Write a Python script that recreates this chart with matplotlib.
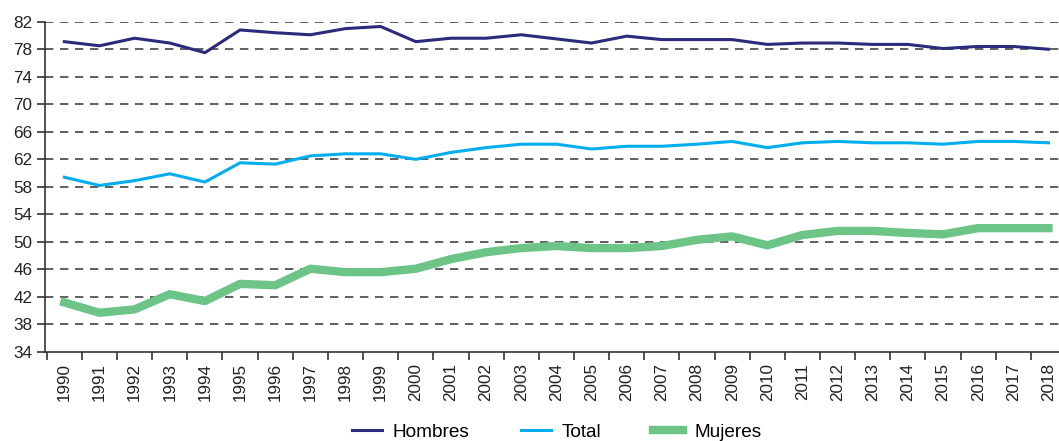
import matplotlib
matplotlib.use("Agg")
import matplotlib.pyplot as plt
from matplotlib.ticker import FixedLocator

plt.rcParams['font.family'] = ['Liberation Sans', 'DejaVu Sans']

years = [str(y) for y in range(1990, 2019)]
hombres = [79.1, 78.5, 79.6, 78.9, 77.5, 80.8, 80.4, 80.1, 81.0, 81.3,
           79.1, 79.6, 79.6, 80.1, 79.5, 78.9, 79.9, 79.4, 79.4, 79.4,
           78.7, 78.9, 78.9, 78.7, 78.7, 78.1, 78.4, 78.4, 78.0]
total = [59.4, 58.2, 58.9, 59.9, 58.7, 61.5, 61.3, 62.5, 62.8, 62.8,
         62.0, 63.0, 63.7, 64.2, 64.2, 63.5, 63.9, 63.9, 64.2, 64.6,
         63.7, 64.4, 64.6, 64.4, 64.4, 64.2, 64.6, 64.6, 64.4]
mujeres = [41.2, 39.7, 40.2, 42.4, 41.4, 43.9, 43.7, 46.1, 45.6, 45.6,
           46.1, 47.5, 48.5, 49.1, 49.4, 49.1, 49.1, 49.4, 50.3, 50.8,
           49.5, 51.0, 51.6, 51.6, 51.3, 51.1, 52.0, 52.0, 52.0]
yticks = list(range(34, 83, 4))

W, H = 1059, 441
fig = plt.figure(figsize=(W / 100, H / 100), dpi=100)
ax = fig.add_axes([45 / W, 89 / H, (W - 45) / W, 330.3 / H])

x = list(range(len(years)))
ax.plot(x, hombres, color='#2B2A7B', lw=2.2, label='Hombres', solid_joinstyle='round')
ax.plot(x, total, color='#00AEEF', lw=2.2, label='Total', solid_joinstyle='round')
ax.plot(x, mujeres, color='#6CC487', lw=6, label='Mujeres', solid_joinstyle='round')

ax.set_ylim(34, 82)
ax.set_xlim(-0.55, 28.3)
ax.set_yticks(yticks)
ax.set_yticklabels([str(t) for t in yticks], fontsize=12.3, color='#222222')
ax.set_xticks(x)
ax.set_xticklabels(years, rotation=90, fontsize=12.3, color='#222222')
ax.xaxis.set_minor_locator(FixedLocator([i + 0.5 for i in range(-1, len(years))]))
ax.tick_params(axis='x', which='major', length=0, pad=8)
ax.tick_params(axis='x', which='minor', length=6, width=1.2, color='#333333')
ax.tick_params(axis='y', length=6, width=1.2, color='#333333', pad=3)

for t in yticks[1:]:
    ax.axhline(t, color='#444444', lw=1.2, ls=(0, (5, 4)), zorder=0)

for s in ['top', 'right']:
    ax.spines[s].set_visible(False)
for s in ['left', 'bottom']:
    ax.spines[s].set_color('#333333')
    ax.spines[s].set_linewidth(1.2)

fig.legend(loc='center', bbox_to_anchor=(556.5 / W, 1 - 432 / H), ncol=3,
           frameon=False, fontsize=13.7, handlelength=1.58, columnspacing=2.7,
           handletextpad=0.58)

fig.savefig('out.png', dpi=100)
